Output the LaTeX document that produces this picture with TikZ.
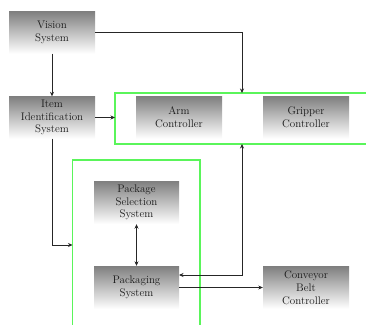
\documentclass[tikz,border=0pt]{standalone}
\usetikzlibrary{arrows.meta}
\definecolor{grpgreen}{RGB}{90,245,90}
\begin{document}
\begin{tikzpicture}[x=1pt,y=-1pt,
  box/.style={shade, top color=gray, bottom color=white, minimum width=86pt, minimum height=42pt,
    inner sep=0pt, align=center, text=black!90, font=\fontsize{11}{12.8}\selectfont},
  conn/.style={line width=0.6pt, draw=black!85, -{Stealth[length=4.5pt,width=4pt]}},
  dconn/.style={line width=0.6pt, draw=black!85, {Stealth[length=4.5pt,width=4pt]}-{Stealth[length=4.5pt,width=4pt]}},
  grp/.style={draw=grpgreen, line width=1.5pt}]
\useasboundingbox (0,0) rectangle (366,324);
\draw[grp] (380,93) -- (115,93) -- (115,144) -- (380,144);
\draw[grp] (72.5,340) -- (72.5,160) -- (200,160) -- (200,340);
\node[box] (vision) at (52,32.5) {Vision\\System};
\node[box] (item) at (52,117.5) {Item\\Identification\\System};
\node[box] (arm) at (179,117.5) {Arm\\Controller};
\node[box] (gripper) at (306,117.5) {Gripper\\Controller};
\node[box, minimum width=85pt, minimum height=43pt] (packsel) at (136.5,202.5) {Package\\Selection\\System};
\node[box, minimum width=85pt, minimum height=43pt] (packaging) at (136.5,287.5) {Packaging\\System};
\node[box] (conveyor) at (306,287.5) {Conveyor\\Belt\\Controller};
\coordinate (g1top) at (242,93);
\coordinate (g1left) at (115,117.5);
\coordinate (g1bot) at (242,144);
\coordinate (g2left) at (72.5,245);
\coordinate (pkin) at (179,275);
\draw[conn] (vision.south) -- (item.north);
\draw[conn] (vision.east) -| (g1top);
\draw[conn] (item.east) -- (g1left);
\draw[conn] (item.south) |- (g2left);
\draw[dconn] (packsel.south) -- (packaging.north);
\draw[conn] (packaging.east) -- (conveyor.west);
\draw[dconn] (pkin) -| (g1bot);
\end{tikzpicture}
\end{document}
